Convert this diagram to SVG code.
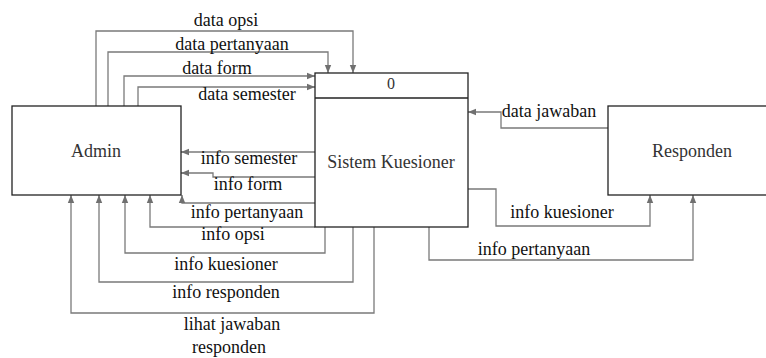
<svg xmlns="http://www.w3.org/2000/svg" width="766" height="358" viewBox="0 0 766 358">
<defs>
<marker id="arr" markerUnits="userSpaceOnUse" markerWidth="8" markerHeight="8" viewBox="0 0 8 8" refX="8" refY="4" orient="auto">
<path d="M0,0.8 L8,4 L0,7.2 Z" fill="#707070"/>
</marker>
<style>
.box{fill:#fff;stroke:#222;stroke-width:1.3}
.c{fill:none;stroke:#7a7a7a;stroke-width:1.3;marker-end:url(#arr)}
text{font-family:"Liberation Serif","Times New Roman",serif;font-size:18px;fill:#111;text-anchor:middle}
.n{fill:#333}
</style>
</defs>
<rect width="766" height="358" fill="#fff"/>
<g id="connectors">
<path class="c" d="M96 106 V31 H353 V73"/>
<path class="c" d="M108 106 V52 H328 V73"/>
<path class="c" d="M124 106 V76 H315"/>
<path class="c" d="M138 106 V87 H315"/>
<path class="c" d="M315 152 H181"/>
<path class="c" d="M315 177 H213 V173 H181"/>
<path class="c" d="M315 203 H182 V195"/>
<path class="c" d="M315 227 H150 V195"/>
<path class="c" d="M325 227 V253 H125 V195"/>
<path class="c" d="M353 227 V282 H99 V195"/>
<path class="c" d="M374 227 V313 H71 V195"/>
<path class="c" d="M608 128 H501 V112 H468"/>
<path class="c" d="M468 189 H496 V226 H650 V195"/>
<path class="c" d="M429 227 V260 H693 V195"/>
</g>
<g id="labels">
<text x="226" y="26">data opsi</text>
<text x="232" y="50">data pertanyaan</text>
<text x="217" y="74">data form</text>
<text x="247" y="100">data semester</text>
<text x="249" y="164">info semester</text>
<text x="248" y="190">info form</text>
<text x="247" y="218">info pertanyaan</text>
<text x="233" y="240">info opsi</text>
<text x="226" y="270">info kuesioner</text>
<text x="226" y="298">info responden</text>
<text x="232" y="330">lihat jawaban</text>
<text x="229" y="353">responden</text>
<text x="549" y="117">data jawaban</text>
<text x="562" y="218">info kuesioner</text>
<text x="534" y="255">info pertanyaan</text>
</g>
<g id="admin">
<rect class="box" x="12" y="106" width="169" height="89"/>
<text class="n" x="96" y="157">Admin</text>
</g>
<g id="sistem">
<rect class="box" x="315" y="73" width="153" height="154"/>
<line x1="315" y1="98" x2="468" y2="98" stroke="#222" stroke-width="1.3"/>
<text class="n" x="391" y="89" style="font-size:16px">0</text>
<text class="n" x="391" y="168">Sistem Kuesioner</text>
</g>
<g id="responden">
<rect class="box" x="608" y="106" width="200" height="89"/>
<text class="n" x="692" y="157">Responden</text>
</g>
</svg>
